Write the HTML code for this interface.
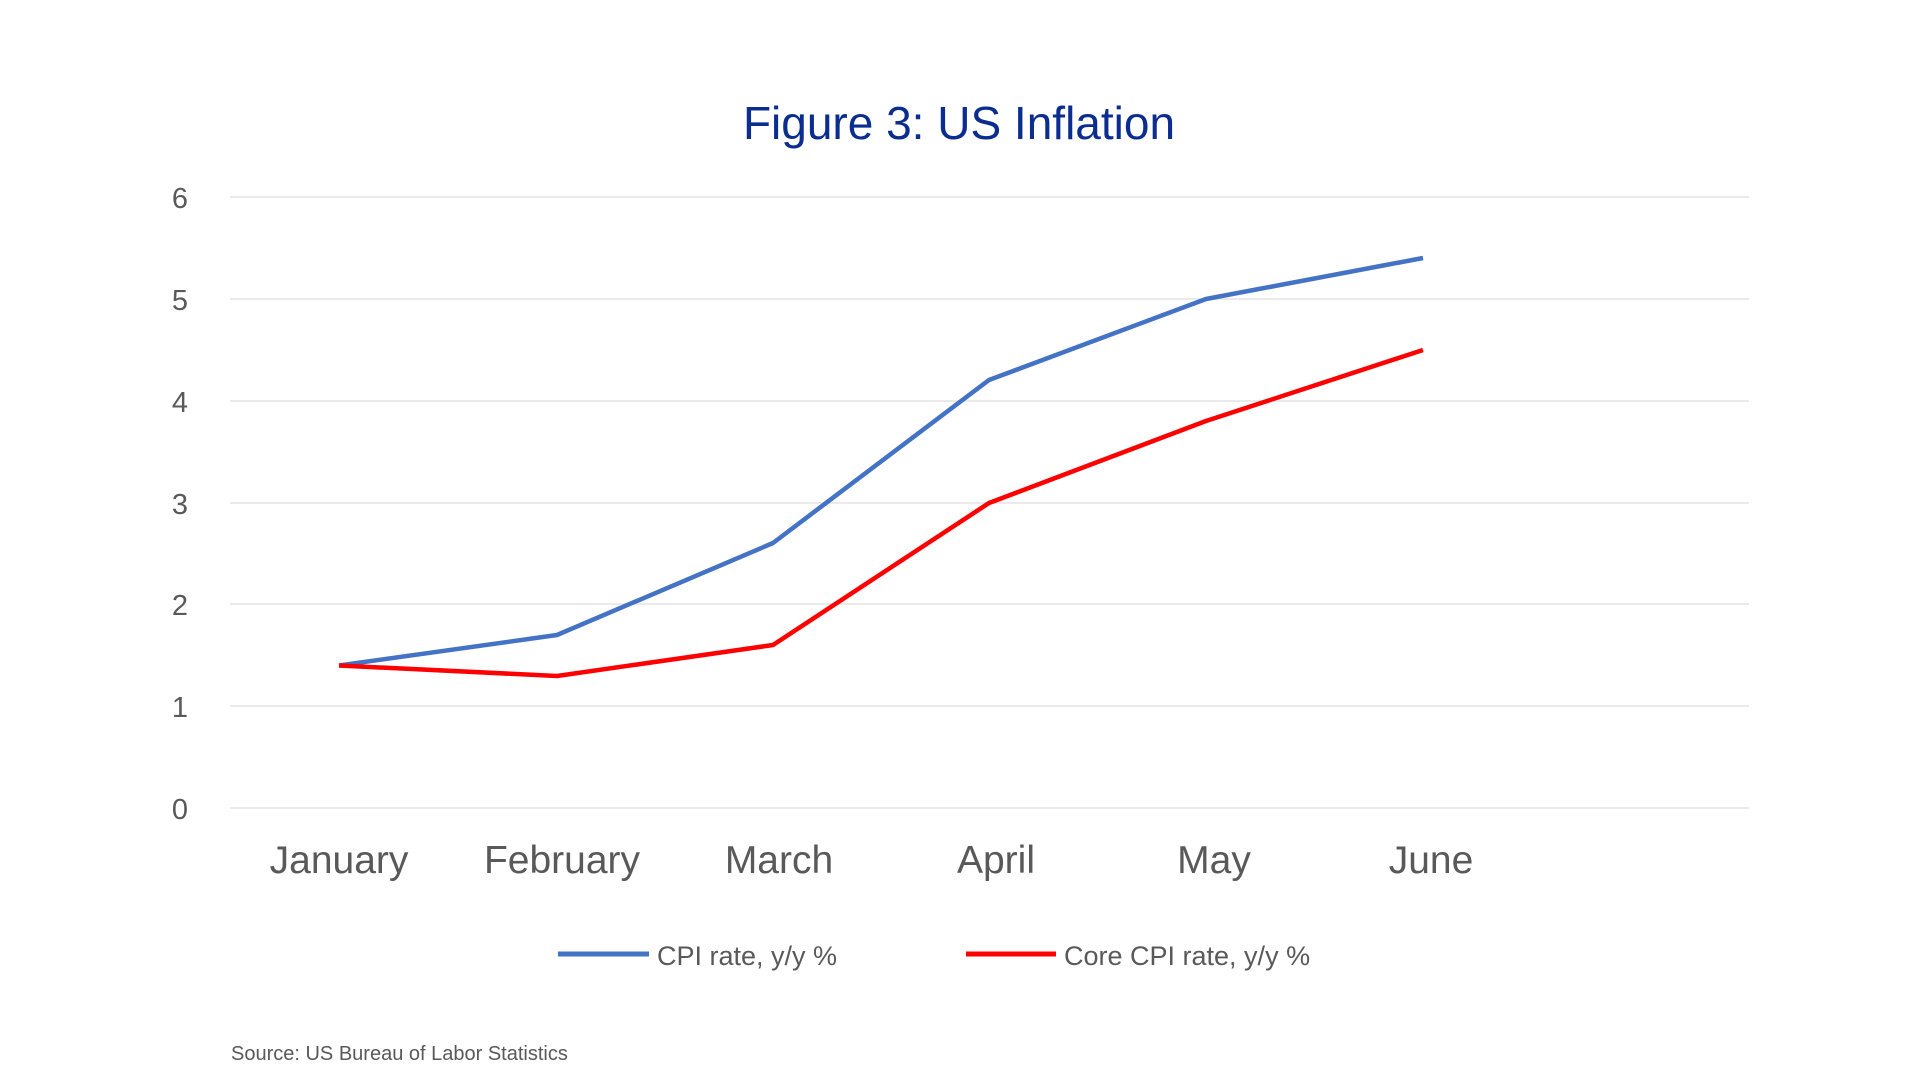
<!DOCTYPE html>
<html><head><meta charset="utf-8"><style>
html,body{margin:0;padding:0;background:#fff;}
svg{display:block;font-family:"Liberation Sans",sans-serif;}
</style></head><body>
<svg width="1920" height="1080" viewBox="0 0 1920 1080">
<text x="959" y="139" text-anchor="middle" font-size="46" fill="#0a2d8f">Figure 3: US Inflation</text>
<g stroke="#e3e3e3" stroke-width="1.5">
<line x1="230" x2="1749" y1="197" y2="197"/>
<line x1="230" x2="1749" y1="299" y2="299"/>
<line x1="230" x2="1749" y1="401" y2="401"/>
<line x1="230" x2="1749" y1="503" y2="503"/>
<line x1="230" x2="1749" y1="604" y2="604"/>
<line x1="230" x2="1749" y1="706" y2="706"/>
<line x1="230" x2="1749" y1="808" y2="808"/>
</g>
<g font-size="29" fill="#595959" text-anchor="middle">
<text x="180" y="208">6</text>
<text x="180" y="310">5</text>
<text x="180" y="412">4</text>
<text x="180" y="514">3</text>
<text x="180" y="615">2</text>
<text x="180" y="717">1</text>
<text x="180" y="819">0</text>
</g>
<g font-size="39" fill="#595959" text-anchor="middle">
<text x="339" y="873">January</text>
<text x="562" y="873">February</text>
<text x="779" y="873">March</text>
<text x="996" y="873">April</text>
<text x="1214" y="873">May</text>
<text x="1431" y="873">June</text>
</g>
<polyline fill="none" stroke="#4472c4" stroke-width="4.5" stroke-linejoin="round" points="339,665.5 557,635 773,543 989,380 1206,299 1423,258"/>
<polyline fill="none" stroke="#ff0000" stroke-width="4.5" stroke-linejoin="round" points="339,665.5 557,676 773,645 989,503 1206,421 1423,350"/>
<line x1="558" x2="649" y1="954" y2="954" stroke="#4472c4" stroke-width="5"/>
<text x="657" y="965" font-size="27" fill="#595959">CPI rate, y/y %</text>
<line x1="966" x2="1056" y1="954" y2="954" stroke="#ff0000" stroke-width="5"/>
<text x="1064" y="965" font-size="27" fill="#595959">Core CPI rate, y/y %</text>
<text x="231" y="1060" font-size="20" fill="#595959">Source: US Bureau of Labor Statistics</text>
</svg>
</body></html>
